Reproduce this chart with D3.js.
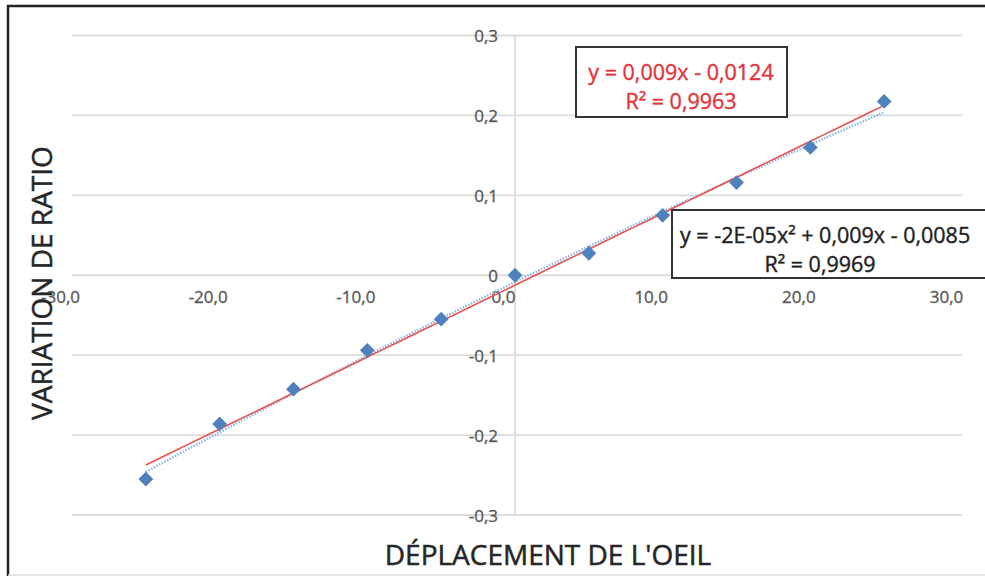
<!DOCTYPE html>
<html>
<head>
<meta charset="utf-8">
<script src="https://cdn.jsdelivr.net/npm/d3@7"></script>
<style>
  body { margin: 0; background: #fff; }
  svg { display: block; font-family: "Open Sans", "Liberation Sans", sans-serif; }
</style>
</head>
<body>
<div id="root"></div>
<script>
var xValues = [-25, -20, -15, -10, -5, 0, 5, 10, 15, 20, 25];
var yValues = [-0.255, -0.186, -0.1425, -0.094, -0.055, 0.0, 0.0275, 0.075, 0.116, 0.16, 0.2175];
var xTicks = [-30, -20, -10, 0, 10, 20, 30];
var yTicks = [-0.3, -0.2, -0.1, 0, 0.1, 0.2, 0.3];
var linCoef = [0.009, -0.0124];           // slope, intercept
var polyCoef = [-0.00002, 0.009, -0.0085]; // a, b, c
var linLabel = ["y = 0,009x - 0,0124", "R² = 0,9963"];
var polyLabel = ["y = -2E-05x² + 0,009x - 0,0085", "R² = 0,9969"];
var xTitle = "DÉPLACEMENT DE L'OEIL";
var yTitle = "VARIATION DE RATIO";

function plotChart() {
    var width = 985;
    var height = 576;

    var svg = d3.select("#root")
        .append("svg")
        .attr("width", width)
        .attr("height", height);

    var x = d3.scaleLinear().domain([-30, 30]).range([72, 958]);
    var y = d3.scaleLinear().domain([-0.3, 0.3]).range([515, 35.5]);

    var fmt = function (v) { return d3.format(".1f")(v).replace(".", ",").replace("−", "-"); };
    var fmtY = function (v) { return v === 0 ? "0" : fmt(v); };

    // frame
    svg.append("line").attr("x1", 8).attr("x2", 8).attr("y1", 5).attr("y2", 576)
        .attr("stroke", "#222").attr("stroke-width", 2.5);
    svg.append("line").attr("x1", 7).attr("x2", 985).attr("y1", 6).attr("y2", 6)
        .attr("stroke", "#222").attr("stroke-width", 2.5);
    svg.append("line").attr("x1", 8).attr("x2", 985).attr("y1", 575).attr("y2", 575)
        .attr("stroke", "#ddd").attr("stroke-width", 1.5);

    // gridlines
    svg.append("g")
        .selectAll("line")
        .data(yTicks)
        .enter().append("line")
        .attr("x1", x(-30)).attr("x2", x(30) + 4)
        .attr("y1", function (d) { return y(d); })
        .attr("y2", function (d) { return y(d); })
        .attr("stroke", "#dcdcdc")
        .attr("stroke-width", 1.8);

    // y axis line at x = 0
    svg.append("line")
        .attr("x1", x(0)).attr("x2", x(0))
        .attr("y1", y(0.3)).attr("y2", y(-0.3))
        .attr("stroke", "#dcdcdc").attr("stroke-width", 1.8);

    // y tick labels
    var yAxis = svg.append("g")
        .attr("transform", "translate(" + (x(0) - 17) + ",1)")
        .call(d3.axisLeft(y).tickValues(yTicks).tickFormat(fmtY).tickSize(0).tickPadding(0));
    yAxis.select(".domain").remove();
    yAxis.selectAll("text")
        .attr("font-family", "Open Sans, sans-serif")
        .attr("font-size", 17)
        .attr("fill", "#595959")
        .attr("stroke", "#595959")
        .attr("stroke-width", 0.35);

    // x tick labels
    var xAxis = svg.append("g")
        .attr("transform", "translate(-12," + (y(0) + 16) + ")")
        .call(d3.axisBottom(x).tickValues(xTicks).tickFormat(fmt).tickSize(0).tickPadding(0));
    xAxis.select(".domain").remove();
    xAxis.selectAll("text")
        .attr("font-family", "Open Sans, sans-serif")
        .attr("font-size", 17)
        .attr("fill", "#595959")
        .attr("stroke", "#595959")
        .attr("stroke-width", 0.35);

    // trendlines
    var lx = d3.range(0, 51).map(function (i) { return -25 + i; });
    var linLine = d3.line()
        .x(function (d) { return x(d); })
        .y(function (d) { return y(linCoef[0] * d + linCoef[1]); });
    var polyLine = d3.line()
        .x(function (d) { return x(d); })
        .y(function (d) { return y(polyCoef[0] * d * d + polyCoef[1] * d + polyCoef[2]); });

    svg.append("path")
        .datum(lx)
        .attr("d", polyLine)
        .attr("fill", "none")
        .attr("stroke", "#8fb8de")
        .attr("stroke-width", 2.5)
        .attr("stroke-dasharray", "1.5,1.5");

    svg.append("path")
        .datum(lx)
        .attr("d", linLine)
        .attr("fill", "none")
        .attr("stroke", "#e8524f")
        .attr("stroke-width", 1.6);

    // markers
    var pts = xValues.map(function (v, i) { return [v, yValues[i]]; });
    svg.selectAll(".marker")
        .data(pts)
        .enter().append("path")
        .classed("marker", true)
        .attr("d", d3.symbol().type(d3.symbolDiamond2).size(140))
        .attr("transform", function (d) { return "translate(" + x(d[0]) + "," + y(d[1]) + ")"; })
        .attr("fill", "#4f81bd");

    // equation boxes
    function eqBox(bx, by, bw, bh, lines, color, cx, anchors) {
        var g = svg.append("g");
        g.append("rect")
            .attr("x", bx).attr("y", by).attr("width", bw).attr("height", bh)
            .attr("fill", "#fff").attr("stroke", "#333").attr("stroke-width", 2);
        g.selectAll("text")
            .data(lines)
            .enter().append("text")
            .attr("x", function (d, i) { return cx[i]; })
            .attr("y", function (d, i) { return by + 33 + i * 29; })
            .attr("text-anchor", function (d, i) { return anchors[i]; })
            .attr("font-family", "Open Sans, sans-serif")
            .attr("font-size", 21.5)
            .attr("fill", color)
            .attr("stroke", color)
            .attr("stroke-width", 0.4)
            .text(function (d) { return d; });
    }
    eqBox(576, 47, 211, 70, linLabel, "#e2353b", [681, 681], ["middle", "middle"]);
    eqBox(672, 210, 330, 68, polyLabel, "#222", [680, 820], ["start", "middle"]);

    // axis titles
    svg.append("text")
        .attr("x", 548).attr("y", 565)
        .attr("text-anchor", "middle")
        .attr("font-family", "Open Sans, sans-serif")
        .attr("font-size", 28)
        .attr("fill", "#262626")
        .attr("stroke", "#262626")
        .attr("stroke-width", 0.5)
        .text(xTitle);

    svg.append("text")
        .attr("transform", "translate(52,283) rotate(-90)")
        .attr("text-anchor", "middle")
        .attr("font-family", "Open Sans, sans-serif")
        .attr("font-size", 28)
        .attr("fill", "#262626")
        .attr("stroke", "#262626")
        .attr("stroke-width", 0.5)
        .text(yTitle);
}

plotChart();
</script>
</body>
</html>
